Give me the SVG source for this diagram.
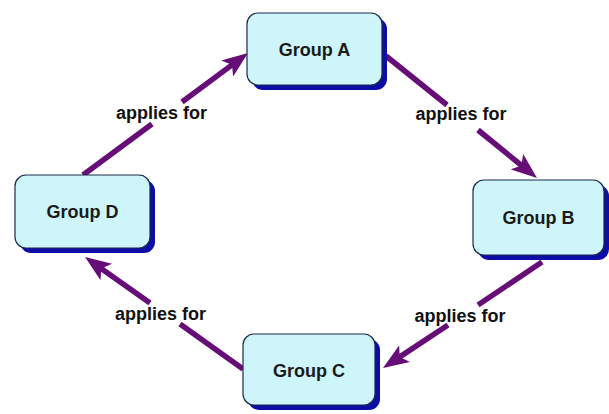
<svg xmlns="http://www.w3.org/2000/svg" width="609" height="414" viewBox="0 0 609 414">
<style>
.shadow{fill:#0c0ca6}
.box{fill:#cdf5fa;stroke:#1c2a4c;stroke-width:1.2}
.nt{font-family:"Liberation Sans",Arial,sans-serif;font-weight:bold;font-size:18px;fill:#1a1a1a;text-anchor:middle}
.lbl{font-family:"Liberation Sans",Arial,sans-serif;font-weight:bold;font-size:18px;fill:#111;text-anchor:middle}
.ln{fill:none;stroke:#660d77;stroke-width:5.5}
</style>
<defs>
<marker id="ah" viewBox="0 0 26 20" refX="14" refY="10" markerWidth="26" markerHeight="20" markerUnits="userSpaceOnUse" orient="auto">
<path d="M0,0 L26,10 L0,20 L6,10 z" fill="#660d77"/>
</marker>
</defs>
<rect width="609" height="414" fill="#ffffff"/>
<g id="connectors">
<path class="ln" d="M83,175 L152,124"/>
<path class="ln" d="M182,102 L238.4,60.1" marker-end="url(#ah)"/>
<path class="ln" d="M386,56 L447,105"/>
<path class="ln" d="M478,130 L527.7,170.5" marker-end="url(#ah)"/>
<path class="ln" d="M542,262 L478,305"/>
<path class="ln" d="M448,325 L393,361.4" marker-end="url(#ah)"/>
<path class="ln" d="M243,369 L180,324"/>
<path class="ln" d="M150,303 L94.8,263.9" marker-end="url(#ah)"/>
<text class="lbl" x="161.5" y="119">applies for</text>
<text class="lbl" x="461" y="120">applies for</text>
<text class="lbl" x="460" y="322">applies for</text>
<text class="lbl" x="160.5" y="320">applies for</text>
</g>
<g id="groupA">
<rect class="shadow" x="252" y="18" width="135" height="72" rx="11"/>
<rect class="box" x="247" y="13" width="135" height="72" rx="11"/>
<text class="nt" x="314.5" y="56">Group A</text>
</g>
<g id="groupB">
<rect class="shadow" x="478" y="185" width="131" height="75" rx="11"/>
<rect class="box" x="473" y="180" width="131" height="75" rx="11"/>
<text class="nt" x="538.5" y="224">Group B</text>
</g>
<g id="groupC">
<rect class="shadow" x="248" y="339" width="132" height="71" rx="11"/>
<rect class="box" x="243" y="334" width="132" height="71" rx="11"/>
<text class="nt" x="309" y="377">Group C</text>
</g>
<g id="groupD">
<rect class="shadow" x="20" y="180" width="135" height="73" rx="11"/>
<rect class="box" x="15" y="175" width="135" height="73" rx="11"/>
<text class="nt" x="82.5" y="218">Group D</text>
</g>
</svg>
